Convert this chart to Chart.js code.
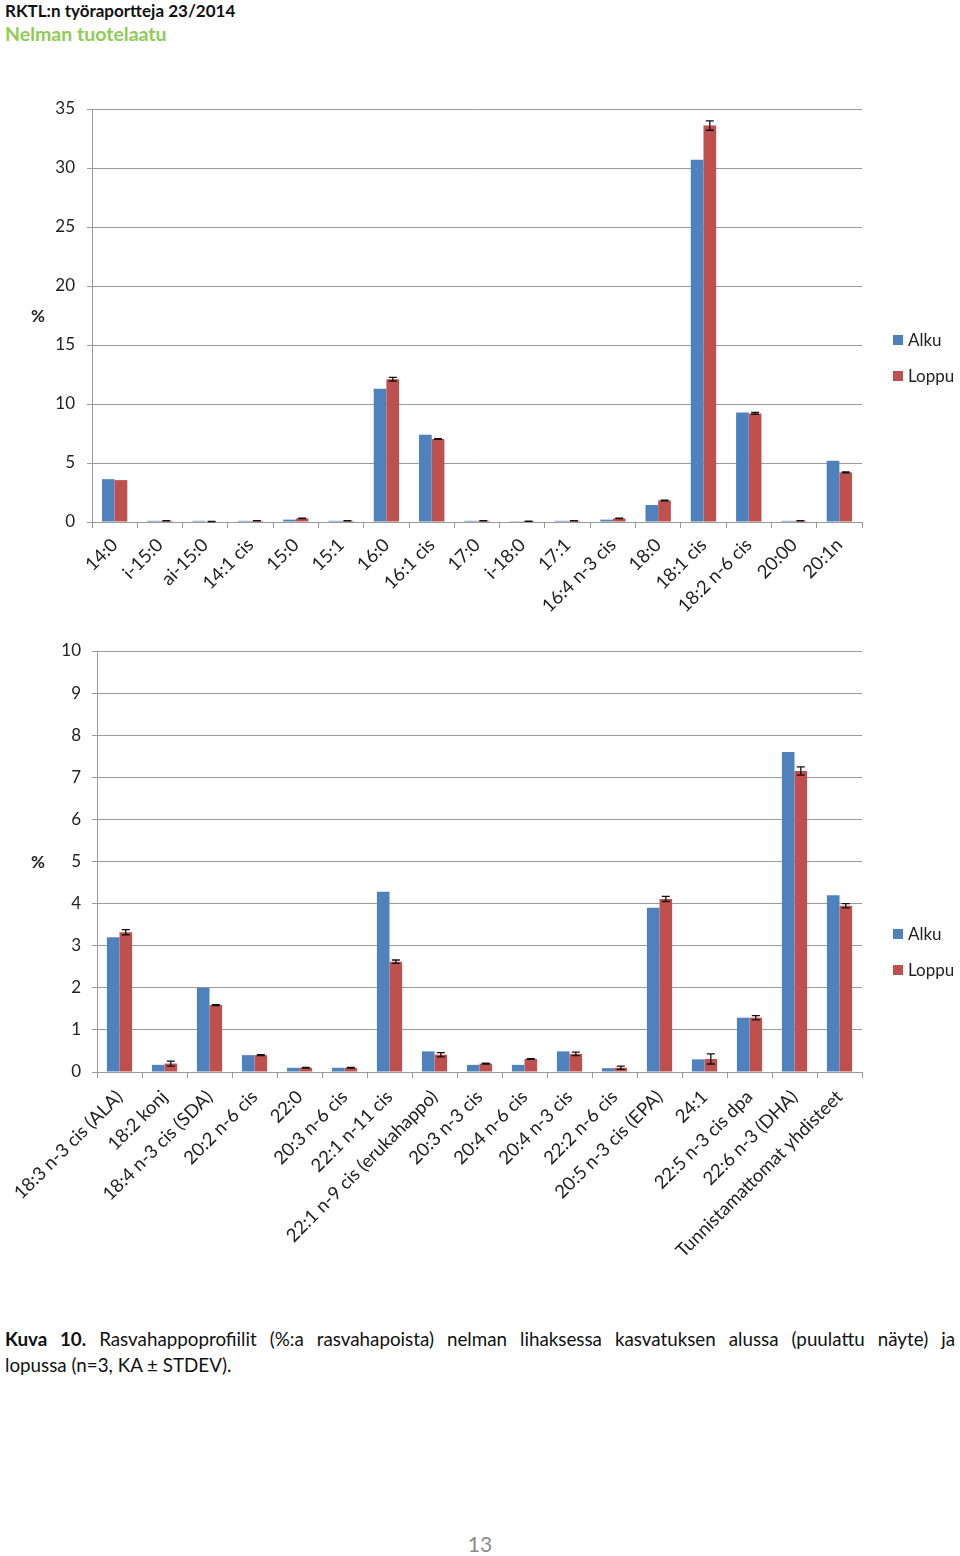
<!DOCTYPE html>
<html>
<head>
<meta charset="utf-8">
<script src="https://cdn.jsdelivr.net/npm/chart.js@4.4.1/dist/chart.umd.min.js"></script>
<style>
  html, body { margin:0; padding:0; background:#fff; }
  body { width:960px; height:1556px; position:relative; font-family:Lato, "Open Sans", sans-serif; overflow:hidden; }
  .abs { position:absolute; }
  .hdr1 { left:5px; top:0px; font-size:17px; font-weight:bold; color:#111; }
  .hdr2 { left:5px; top:22px; font-size:19.5px; font-weight:bold; color:#8FCB55; }
  .pct { font-size:17px; font-weight:bold; color:#222; }
  .leg { font-size:17px; color:#222; display:flex; align-items:center; }
  .leg span.sw { display:inline-block; width:10px; height:10px; margin-right:5px; }
  .cap { left:5px; width:950px; font-size:18.8px; color:#111; }
  .cap1 { top:1327px; text-align:justify; text-align-last:justify; }
  .cap2 { top:1353px; }
  .pg { left:0; width:960px; top:1531px; text-align:center; font-size:21px; color:#8a8a8a; }
</style>
</head>
<body>
<div class="abs hdr1">RKTL:n työraportteja 23/2014</div>
<div class="abs hdr2">Nelman tuotelaatu</div>

<div class="abs" style="left:0;top:95px;width:960px;height:530px;"><canvas id="c1"></canvas></div>
<div class="abs" style="left:0;top:640px;width:960px;height:640px;"><canvas id="c2"></canvas></div>

<div class="abs pct" style="left:31px;top:305px;">%</div>
<div class="abs pct" style="left:31px;top:851px;">%</div>

<div class="abs leg" style="left:893px;top:329px;"><span class="sw" style="background:#4F81BD"></span>Alku</div>
<div class="abs leg" style="left:893px;top:365px;"><span class="sw" style="background:#C0504D"></span>Loppu</div>
<div class="abs leg" style="left:893px;top:923px;"><span class="sw" style="background:#4F81BD"></span>Alku</div>
<div class="abs leg" style="left:893px;top:959px;"><span class="sw" style="background:#C0504D"></span>Loppu</div>

<div class="abs cap cap1"><b>Kuva 10.</b> Rasvahappoprofiilit (%:a rasvahapoista) nelman lihaksessa kasvatuksen alussa (puulattu näyte) ja</div>
<div class="abs cap cap2">lopussa (n=3, KA ± STDEV).</div>
<div class="abs pg">13</div>

<script>
// ---- Data: upper chart ----
const categories1 = ["14:0","i-15:0","ai-15:0","14:1 cis","15:0","15:1","16:0","16:1 cis","17:0","i-18:0","17:1","16:4 n-3 cis","18:0","18:1 cis","18:2 n-6 cis","20:00","20:1n"];
const alku1  = [3.63, 0.1, 0.1, 0.1, 0.2, 0.1, 11.3, 7.4, 0.1, 0.07, 0.1, 0.2, 1.44, 30.7, 9.28, 0.1, 5.19];
const loppu1 = [3.55, 0.1, 0.05, 0.1, 0.3, 0.1, 12.1, 7.03, 0.1, 0.07, 0.1, 0.3, 1.83, 33.6, 9.2, 0.1, 4.2];
const stdev1 = [0, 0.01, 0.01, 0.01, 0.02, 0.01, 0.15, 0.03, 0.01, 0.01, 0.01, 0.02, 0.03, 0.4, 0.08, 0.01, 0.04];
const yTicks1 = { min: 0, max: 35, step: 5 };

// ---- Data: lower chart ----
const categories2 = ["18:3 n-3 cis (ALA)","18:2 konj","18:4 n-3 cis (SDA)","20:2 n-6 cis","22:0","20:3 n-6 cis","22:1 n-11 cis","22:1 n-9 cis (erukahappo)","20:3 n-3 cis","20:4 n-6 cis","20:4 n-3 cis","22:2 n-6 cis","20:5 n-3 cis (EPA)","24:1","22:5 n-3 cis dpa","22:6 n-3 (DHA)","Tunnistamattomat yhdisteet"];
const alku2  = [3.2, 0.17, 2.0, 0.4, 0.1, 0.1, 4.28, 0.49, 0.17, 0.17, 0.49, 0.09, 3.9, 0.3, 1.29, 7.6, 4.2];
const loppu2 = [3.32, 0.2, 1.59, 0.4, 0.1, 0.1, 2.62, 0.41, 0.2, 0.31, 0.43, 0.1, 4.11, 0.31, 1.29, 7.15, 3.95];
const stdev2 = [0.06, 0.06, 0.01, 0.01, 0.01, 0.01, 0.04, 0.05, 0.01, 0.01, 0.04, 0.04, 0.06, 0.12, 0.05, 0.1, 0.05];
const yTicks2 = { min: 0, max: 10, step: 1 };

const seriesNames = ["Alku", "Loppu"];
const colors = ["#4F81BD", "#C0504D"];

Chart.defaults.font.family = "Lato, 'Open Sans', sans-serif";
Chart.defaults.color = "#222";

const errorBars = {
  id: 'errorBars',
  afterDatasetsDraw(chart, args, opts) {
    const meta = chart.getDatasetMeta(1);
    const ys = chart.scales.y;
    const ctx = chart.ctx;
    const vals = chart.data.datasets[1].data;
    ctx.save();
    ctx.strokeStyle = '#111';
    ctx.lineWidth = 1.3;
    meta.data.forEach((bar, i) => {
      const s = opts.std[i];
      if (!s) return;
      const v = vals[i];
      const t = ys.getPixelForValue(v + s);
      const b = ys.getPixelForValue(v - s);
      const x = bar.x;
      ctx.beginPath();
      ctx.moveTo(x, t); ctx.lineTo(x, b);
      ctx.moveTo(x - 4, t); ctx.lineTo(x + 4, t);
      ctx.moveTo(x - 4, b); ctx.lineTo(x + 4, b);
      ctx.stroke();
    });
    ctx.restore();
  }
};

function makeChart(id, cats, a, l, sd, yt, yWidth, xHeight, padTop, tickPad, xPad) {
  return new Chart(document.getElementById(id), {
    type: 'bar',
    data: {
      labels: cats,
      datasets: [
        { label: seriesNames[0], data: a, backgroundColor: colors[0], categoryPercentage: 0.56, barPercentage: 1.0 },
        { label: seriesNames[1], data: l, backgroundColor: colors[1], categoryPercentage: 0.56, barPercentage: 1.0 }
      ]
    },
    options: {
      responsive: true,
      maintainAspectRatio: false,
      animation: false,
      layout: { padding: { top: padTop, right: 98, left: 0, bottom: 0 } },
      plugins: {
        legend: { display: false },
        tooltip: { enabled: false },
        errorBars: { std: sd }
      },
      scales: {
        x: {
          grid: { drawOnChartArea: false, drawTicks: true, tickLength: 6, color: '#999', offset: true },
          border: { color: '#999', width: 1 },
          ticks: { autoSkip: false, maxRotation: 45, minRotation: 45, font: { size: 18.5 }, color: '#222', padding: xPad },
          afterFit: (s) => { s.height = xHeight; }
        },
        y: {
          min: yt.min, max: yt.max,
          grid: { color: '#9a9a9a', lineWidth: 1, tickLength: 5, drawTicks: true },
          border: { color: '#999', width: 1 },
          ticks: { stepSize: yt.step, font: { size: 17 }, color: '#222', padding: tickPad },
          afterFit: (s) => { s.width = yWidth; s.paddingTop = 0; s.paddingBottom = 0; }
        }
      }
    },
    plugins: [errorBars]
  });
}

makeChart('c1', categories1, alku1, loppu1, stdev1, yTicks1, 92, 103, 14, 12, 6);
makeChart('c2', categories2, alku2, loppu2, stdev2, yTicks2, 97, 208, 11, 11, 8);
</script>
</body>
</html>
